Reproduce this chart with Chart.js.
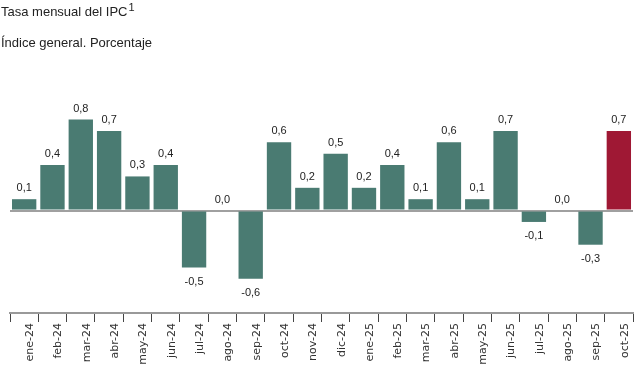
<!DOCTYPE html>
<html>
<head>
  <meta charset="utf-8">
  <script src="https://cdn.jsdelivr.net/npm/chart.js"></script>
  <style>
    body { margin: 0; background: #fff; }
    #wrap { position: relative; width: 642px; height: 367px; }
    .t { position: absolute; left: 1px; font-family: "Liberation Sans", Arial, sans-serif; color: #222; white-space: nowrap; }
    #title { top: 4px; font-size: 13px; }
    #title sup { font-size: 11px; vertical-align: 5px; line-height: 0; margin-left: 1px; }
    #sub { top: 35px; font-size: 13px; }
  </style>
</head>
<body>
  <div id="wrap">
    <canvas id="ipcChart" width="642" height="367"></canvas>
    <div class="t" id="title">Tasa mensual del IPC<sup>1</sup></div>
    <div class="t" id="sub">Índice general. Porcentaje</div>
  </div>

  <script>
    const months = ['ene-24', 'feb-24', 'mar-24', 'abr-24', 'may-24', 'jun-24', 'jul-24', 'ago-24',
                    'sep-24', 'oct-24', 'nov-24', 'dic-24', 'ene-25', 'feb-25', 'mar-25', 'abr-25',
                    'may-25', 'jun-25', 'jul-25', 'ago-25', 'sep-25', 'oct-25'];
    const rates = [0.1, 0.4, 0.8, 0.7, 0.3, 0.4, -0.5, 0.0, -0.6, 0.6, 0.2, 0.5,
                   0.2, 0.4, 0.1, 0.6, 0.1, 0.7, -0.1, 0.0, -0.3, 0.7];

    const teal = '#4a7b72';
    const red = '#9f1834';
    const barColors = rates.map((v, i) => i === rates.length - 1 ? red : teal);

    // value labels above / below each bar
    const valueLabels = {
      id: 'valueLabels',
      afterDatasetsDraw(chart) {
        const ctx = chart.ctx;
        const meta = chart.getDatasetMeta(0);
        ctx.save();
        ctx.font = '11px "Liberation Sans", Arial, sans-serif';
        ctx.fillStyle = '#222';
        ctx.textAlign = 'center';
        ctx.textBaseline = 'middle';
        meta.data.forEach((bar, i) => {
          const v = rates[i];
          const txt = v.toFixed(1).replace('.', ',');
          const y = v < 0 ? bar.y + 14 : bar.y - 11;
          ctx.fillText(txt, bar.x, y);
        });
        ctx.restore();
      }
    };

    const ctx = document.getElementById('ipcChart').getContext('2d');
    new Chart(ctx, {
      type: 'bar',
      data: {
        labels: months,
        datasets: [{
          data: rates,
          backgroundColor: barColors,
          barPercentage: 0.86,
          categoryPercentage: 1.0,
        }]
      },
      options: {
        responsive: false,
        animation: false,
        layout: { padding: { top: 74, left: 10, right: 9, bottom: 0 } },
        scales: {
          x: {
            offset: true,
            afterFit: s => { s.height = 54; },
            border: { color: '#999', width: 2 },
            grid: {
              offset: true,
              drawOnChartArea: false,
              tickLength: 9,
              color: '#444',
              lineWidth: 1
            },
            ticks: {
              autoSkip: false,
              minRotation: 90,
              maxRotation: 90,
              padding: 1,
              labelOffset: 6,
              color: '#333',
              font: { family: '"DejaVu Sans", sans-serif', size: 11 }
            }
          },
          y: {
            min: -0.9,
            max: 1.2,
            display: true,
            border: { display: false },
            ticks: { display: false, stepSize: 0.1 },
            grid: {
              drawTicks: false,
              lineWidth: 2,
              color: c => Math.abs(c.tick.value) < 1e-9 ? 'rgba(150,150,150,0.9)' : 'rgba(0,0,0,0)'
            }
          }
        },
        plugins: {
          legend: { display: false },
          tooltip: { enabled: false }
        }
      },
      plugins: [valueLabels]
    });
  </script>
</body>
</html>
